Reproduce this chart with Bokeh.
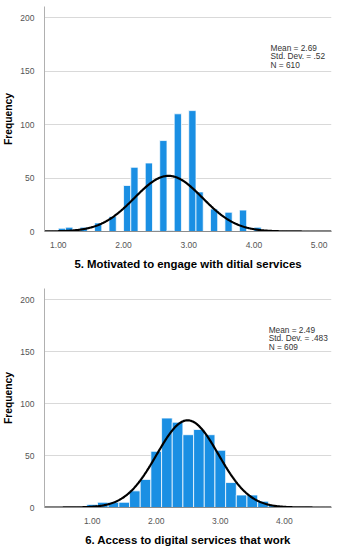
import numpy as np
from bokeh.plotting import figure
from bokeh.layouts import column
from bokeh.models import FixedTicker, NumeralTickFormatter, Label, Range1d
from bokeh.embed import file_html
from bokeh.resources import INLINE

# ---------------- data ----------------
# Chart 1: "5. Motivated to engage with ditial services"
bins1_mid = [1.056, 1.167, 1.389, 1.611, 1.833, 2.056, 2.167, 2.389, 2.500, 2.611,
             2.722, 2.833, 3.056, 3.167, 3.389, 3.611, 3.833, 4.056]
counts1 = [3, 4, 4, 8, 14, 43, 60, 64, 1, 85, 1, 110, 113, 37, 21, 18, 20, 4]
binw1 = 1 / 9
mean1, sd1, n1 = 2.69, 0.52, 610
stats1 = ["Mean = 2.69", "Std. Dev. = .52", "N = 610"]
title1 = "5. Motivated to engage with ditial services"
xticks1 = [1, 2, 3, 4, 5]

# Chart 2: "6. Access to digital services that work"
bins2_mid = [1.000, 1.167, 1.333, 1.500, 1.667, 1.833, 2.000, 2.167, 2.333, 2.500,
             2.667, 2.833, 3.000, 3.167, 3.333, 3.500, 3.667, 3.833]
counts2 = [3, 5, 5, 5, 16, 27, 54, 86, 82, 70, 75, 70, 55, 24, 12, 12, 6, 2]
binw2 = 1 / 6
mean2, sd2, n2 = 2.49, 0.483, 609
stats2 = ["Mean = 2.49", "Std. Dev. = .483", "N = 609"]
title2 = "6. Access to digital services that work"
xticks2 = [1, 2, 3, 4]

yticks = [0, 50, 100, 150, 200]

FONT = "Liberation Sans"
BAR = "#1a8fe3"


def make_hist(mids, counts, binw, mean, sd, n, stats, title, xticks,
              xr, yr, height, top_border, bottom_border, stat_xy):
    p = figure(width=332, height=height, output_backend="svg", toolbar_location=None,
               x_range=Range1d(*xr), y_range=Range1d(*yr),
               min_border_left=34, min_border_right=1,
               min_border_top=top_border, min_border_bottom=bottom_border)
    p.outline_line_color = None
    p.background_fill_color = "white"
    p.border_fill_color = "white"

    p.vbar(x=mids, width=binw, top=counts, bottom=0, fill_color=BAR,
           line_color="white", line_alpha=0.75, line_width=1)

    xs = np.linspace(xr[0], xr[1], 400)
    ys = n * binw * np.exp(-0.5 * ((xs - mean) / sd) ** 2) / (sd * np.sqrt(2 * np.pi))
    p.line(xs, ys, line_color="black", line_width=2.2)

    # axes
    p.xaxis.ticker = FixedTicker(ticks=xticks)
    p.xaxis.formatter = NumeralTickFormatter(format="0.00")
    p.yaxis.ticker = FixedTicker(ticks=yticks)
    for ax in (p.xaxis[0], p.yaxis[0]):
        ax.major_tick_line_color = None
        ax.minor_tick_line_color = None
        ax.major_label_text_font = FONT
        ax.major_label_text_font_size = "8.5px"
        ax.major_label_text_color = "#555555"
        ax.axis_label_text_font = FONT
        ax.axis_label_text_font_style = "bold"
        ax.axis_label_text_color = "black"
    p.xaxis.axis_line_color = "#8c8c8c"
    p.yaxis.axis_line_color = "#b0b0b0"
    p.xaxis.major_label_standoff = 4
    p.yaxis.major_label_standoff = 4
    p.xaxis.axis_label = title
    p.xaxis.axis_label_text_font_size = "11.4px"
    p.xaxis.axis_label_standoff = 7
    p.yaxis.axis_label = "Frequency"
    p.yaxis.axis_label_text_font_size = "10.3px"
    p.yaxis.axis_label_standoff = 3

    p.xgrid.grid_line_color = None
    p.ygrid.grid_line_color = "#d9d9d9"
    p.ygrid.ticker = FixedTicker(ticks=yticks[1:])

    sx, sy, dy = stat_xy
    for i, s in enumerate(stats):
        p.add_layout(Label(x=sx, y=sy - i * dy, text=s, text_font=FONT,
                           text_font_size="8.3px", text_color="#333333",
                           text_baseline="middle", text_align="left"))
    return p


p1 = make_hist(bins1_mid, counts1, binw1, mean1, sd1, n1, stats1, title1, xticks1,
               (0.788, 5.19), (0, 210.3), 280, 6, 49, (4.255, 171.3, 7.7))
p2 = make_hist(bins2_mid, counts2, binw2, mean2, sd2, n2, stats2, title2, xticks2,
               (0.256, 4.736), (0, 210.6), 268, 8, 34, (3.755, 170.5, 7.9))

layout = column(p1, p2, spacing=0)
open("out.html", "w").write(file_html(layout, INLINE))
